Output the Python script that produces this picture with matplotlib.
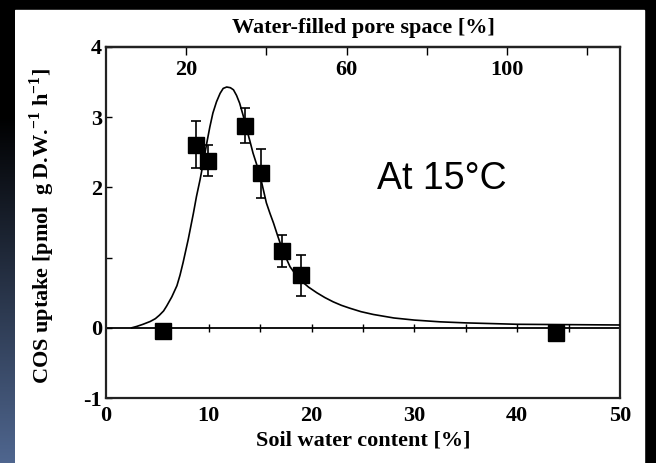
import numpy as np
import matplotlib
matplotlib.use('Agg')
import matplotlib.pyplot as plt
from matplotlib.patches import Rectangle

# ---- data ----
swc = [5.5, 8.8, 9.9, 13.5, 15.1, 17.1, 19.0, 43.8]          # soil water content [%]
uptake = [-0.04, 2.61, 2.38, 2.88, 2.20, 1.09, 0.75, -0.07]   # COS uptake
err = [0.06, 0.34, 0.22, 0.25, 0.35, 0.23, 0.29, 0.05]

curve_x = [2.5, 3.0, 3.6, 4.3, 4.8, 5.2, 5.6, 5.9, 6.4, 6.9, 7.2, 7.5, 8.0, 8.5, 8.8,
           9.15, 9.5, 9.8, 10.1, 10.4, 10.75, 11.1, 11.4, 11.74, 12.1, 12.4, 12.7,
           13.0, 13.35, 13.7, 14.0, 14.3, 14.65, 15.0, 15.3, 15.6, 15.95, 16.3,
           16.7, 17.1, 17.5, 17.9, 18.4, 18.9, 19.7, 20.5, 21.3, 22.1, 22.9, 23.7,
           24.8, 26.0, 28.0, 30.0, 32.5, 35.0, 37.5, 40.0, 45.0, 50.0]
curve_y = [0.0, 0.02, 0.05, 0.09, 0.13, 0.18, 0.24, 0.31, 0.44, 0.60, 0.75, 0.93,
           1.26, 1.63, 1.87, 2.11, 2.38, 2.63, 2.86, 3.06, 3.22, 3.34, 3.41, 3.43,
           3.42, 3.39, 3.31, 3.20, 3.02, 2.82, 2.66, 2.49, 2.33, 2.16, 1.97, 1.78,
           1.63, 1.49, 1.31, 1.14, 1.00, 0.87, 0.77, 0.68, 0.58, 0.50, 0.43, 0.37,
           0.32, 0.28, 0.23, 0.19, 0.14, 0.11, 0.085, 0.07, 0.06, 0.05, 0.045, 0.04]

x_ticks = [0, 10, 20, 30, 40, 50]
y_ticks = [-1, 0, 1, 2, 3, 4]
y_labels = ['-1', '0', '', '2', '3', '4']
wfps_ticks = [20, 40, 60, 80, 100, 120]
wfps_labels = ['20', '', '60', '', '100', '']
zero_ticks = [5, 10, 15, 20, 25, 30, 35, 40, 45]

plt.rcParams['font.family'] = ['Liberation Serif', 'DejaVu Serif']
plt.rcParams['font.weight'] = 'bold'
plt.rcParams['axes.labelweight'] = 'bold'
plt.rcParams['mathtext.fontset'] = 'custom'
plt.rcParams['mathtext.rm'] = 'Liberation Serif:bold'
plt.rcParams['mathtext.bf'] = 'Liberation Serif:bold'

W, H = 656, 463
fig = plt.figure(figsize=(W / 100, H / 100), dpi=100, facecolor='black')

# left gradient strip
gax = fig.add_axes([0, 0, 15 / W, 1])
t = np.linspace(0, 1, 256)
f = np.clip((t - 0.25) / 0.75, 0, 1)
slate = np.array([0.31, 0.40, 0.56])
img = (f[:, None] * slate[None, :])[:, None, :]
gax.imshow(img, aspect='auto', extent=[0, 1, 0, 1])
gax.axis('off')

# white panel
fig.add_artist(Rectangle((15 / W, 0), (644 - 15) / W, 453 / H,
                         transform=fig.transFigure, color='white', zorder=0))

ax = fig.add_axes([106 / W, 65 / H, (620 - 106) / W, (398 - 47) / H])
ax.set_facecolor('white')
ax.set_xlim(0, 50)
ax.set_ylim(-1, 4)

ax.plot(curve_x, curve_y, color='black', lw=1.2, zorder=3)
ax.errorbar(swc, uptake, yerr=err, fmt='s', color='black', ms=11.5,
            capsize=3.5, elinewidth=1.2, capthick=1.2, zorder=4)

ax.axhline(0, color='black', lw=1.3, zorder=2)
ax.plot(zero_ticks, [0] * len(zero_ticks), ls='none', marker='|',
        color='black', ms=6, mew=1.0, zorder=2)

for s in ax.spines.values():
    s.set_linewidth(1.6)
    s.set_color('#222222')

ax.set_xticks(x_ticks)
ax.set_xticklabels([str(v) for v in x_ticks])
ax.tick_params(axis='x', length=0, pad=6, labelsize=16)
ax.set_yticks(y_ticks)
ax.set_yticklabels(y_labels)
ax.tick_params(axis='y', direction='in', length=4, width=1.0, pad=3, labelsize=16)

ax.set_xlabel('Soil water content [%]', fontsize=16, fontweight='bold', labelpad=3)
ax.set_ylabel(r'COS uptake [pmol  g D.W.$^{-1}$ h$^{-1}$]', fontsize=16, fontweight='bold')
ax.yaxis.set_label_coords(-0.095, 0.49)

sec = ax.secondary_xaxis('top', functions=(lambda x: x / 0.39, lambda w: w * 0.39))
sec.set_xticks(wfps_ticks)
sec.set_xticklabels(wfps_labels)
sec.tick_params(direction='in', length=6, width=1.0, pad=-24, labelsize=16)
sec.spines['top'].set_linewidth(1.6)
sec.set_xlabel('Water-filled pore space [%]', fontsize=16, fontweight='bold', labelpad=10)

fig.text(377 / W, 1 - 189 / H, 'At 15°C', fontfamily='Liberation Sans',
         fontweight='normal', fontsize=27, va='baseline', ha='left')

fig.savefig('out.png', dpi=100, facecolor='black')
